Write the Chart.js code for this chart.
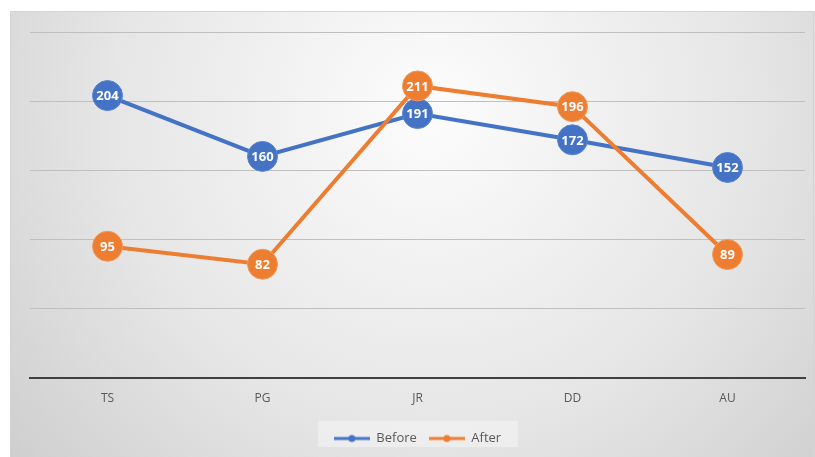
<!DOCTYPE html>
<html>
<head>
<meta charset="utf-8">
<script src="https://cdn.jsdelivr.net/npm/chart.js@4"></script>
<style>
  html, body { margin: 0; padding: 0; background: #fff; }
  #wrap { width: 815px; height: 457px; }
</style>
</head>
<body>
<div id="wrap"><canvas id="lineChart"></canvas></div>
<script>
const categories = ['TS', 'PG', 'JR', 'DD', 'AU'];
const beforeValues = [204, 160, 191, 172, 152];
const afterValues = [95, 82, 211, 196, 89];

const BLUE = '#4472C4';
const ORANGE = '#ED7D31';

// legend marker: short line with a dot, like Excel
function legendMarker(color) {
    const c = document.createElement('canvas');
    c.width = 36; c.height = 10;
    const ctx = c.getContext('2d');
    ctx.strokeStyle = color;
    ctx.lineWidth = 3;
    ctx.beginPath(); ctx.moveTo(0, 5); ctx.lineTo(36, 5); ctx.stroke();
    ctx.fillStyle = color;
    ctx.beginPath(); ctx.arc(18, 5, 3.5, 0, Math.PI * 2); ctx.fill();
    return c;
}

// gradient panel behind the chart
const panelBg = {
    id: 'panelBg',
    beforeDraw(chart) {
        const ctx = chart.ctx;
        ctx.save();
        ctx.fillStyle = '#fff';
        ctx.fillRect(0, 0, chart.width, chart.height);
        const g = ctx.createRadialGradient(430, 110, 20, 430, 110, 560);
        g.addColorStop(0, '#fbfbfb');
        g.addColorStop(0.55, '#e6e6e6');
        g.addColorStop(1, '#cdcdcd');
        ctx.fillStyle = g;
        ctx.fillRect(10, 11, chart.width - 10, chart.height - 11);
        ctx.strokeStyle = '#d4d4d4';
        ctx.lineWidth = 1;
        ctx.strokeRect(10.5, 11.5, chart.width - 12, chart.height);
        // legend box
        ctx.fillStyle = 'rgba(255,255,255,0.35)';
        ctx.fillRect(318, 421, 200, 26);
        ctx.restore();
    }
};

// value labels inside the markers
const pointLabels = {
    id: 'pointLabels',
    afterDatasetsDraw(chart) {
        const ctx = chart.ctx;
        ctx.save();
        ctx.font = 'bold 13px "Open Sans", sans-serif';
        ctx.fillStyle = '#fff';
        ctx.textAlign = 'center';
        ctx.textBaseline = 'middle';
        chart.data.datasets.forEach((ds, i) => {
            chart.getDatasetMeta(i).data.forEach((pt, j) => {
                ctx.fillText(ds.data[j], pt.x, pt.y + 1);
            });
        });
        ctx.restore();
    }
};

new Chart(document.getElementById('lineChart'), {
    type: 'line',
    data: {
        labels: categories,
        datasets: [{
            label: 'Before',
            data: beforeValues,
            borderColor: BLUE,
            backgroundColor: BLUE,
            pointBackgroundColor: BLUE,
            pointBorderColor: '#5b85d0',
            borderWidth: 4,
            pointRadius: 15,
            pointBorderWidth: 1,
            order: 2
        }, {
            label: 'After',
            data: afterValues,
            borderColor: ORANGE,
            backgroundColor: ORANGE,
            pointBackgroundColor: ORANGE,
            pointBorderColor: '#f19a5c',
            borderWidth: 4,
            pointRadius: 15,
            pointBorderWidth: 1,
            order: 1
        }]
    },
    options: {
        responsive: true,
        maintainAspectRatio: false,
        animation: false,
        layout: { autoPadding: false, padding: { left: 30, right: 10, top: 32, bottom: 2 } },
        scales: {
            x: {
                offset: true,
                grid: { display: false, drawTicks: false, offset: true },
                border: { display: true, color: '#404040', width: 2 },
                ticks: {
                    color: '#595959',
                    padding: 14,
                    font: { family: '"Open Sans", sans-serif', size: 12 }
                }
            },
            y: {
                min: 0,
                max: 250,
                display: true,
                ticks: { display: false, stepSize: 50 },
                grid: { color: '#bfbfbf', lineWidth: 1, drawTicks: false },
                border: { display: false }
            }
        },
        plugins: {
            tooltip: { enabled: false },
            legend: {
                position: 'bottom',
                labels: {
                    usePointStyle: true,
                    pointStyleWidth: 36,
                    color: '#595959',
                    padding: 12,
                    font: { family: '"Open Sans", sans-serif', size: 13 },
                    generateLabels(chart) {
                        return chart.data.datasets.map((ds, i) => ({
                            text: ds.label,
                            pointStyle: legendMarker(ds.borderColor),
                            fillStyle: ds.borderColor,
                            strokeStyle: ds.borderColor,
                            fontColor: '#595959',
                            lineWidth: 0,
                            datasetIndex: i
                        }));
                    }
                }
            }
        }
    },
    plugins: [panelBg, pointLabels]
});
</script>
</body>
</html>
